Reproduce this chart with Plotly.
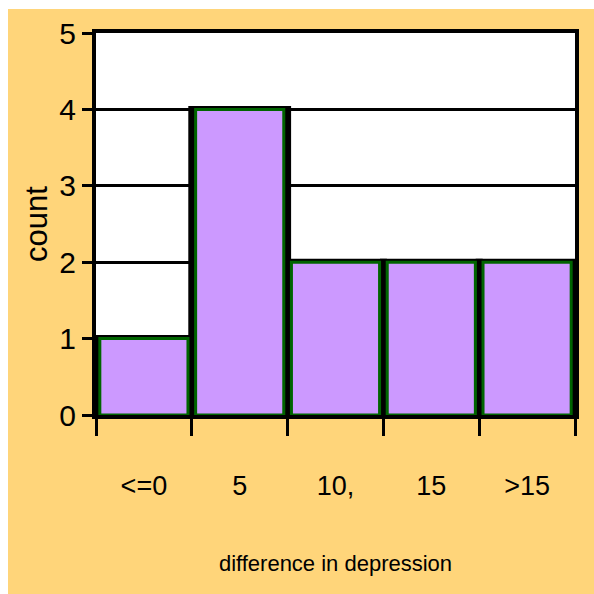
import plotly.graph_objects as go

# Histogram of change in depression score
bins = ["<=0", "5", "10,", "15", ">15"]
counts = [1, 4, 2, 2, 2]

y_ticks = [0, 1, 2, 3, 4, 5]

FONT = "Liberation Sans, Arial, sans-serif"
ORANGE = "#FFD57A"
PURPLE = "#CC99FF"
GREEN = "#006400"

fig = go.Figure()

# dark backing: gives the thin black rim between neighbouring bars
fig.add_trace(go.Bar(
    x=bins, y=counts, width=[1.0] * len(bins),
    marker=dict(color="black", line=dict(color="black", width=7)),
    hoverinfo="skip", showlegend=False,
))
# purple bars with green outline
fig.add_trace(go.Bar(
    x=bins, y=counts, width=[0.92] * len(bins),
    marker=dict(color=PURPLE, line=dict(color=GREEN, width=3)),
    showlegend=False,
))

W, H = 594, 594
L, R, T, B = 96, 19, 33, 179
pw, ph = W - L - R, H - T - B

fig.update_layout(
    width=W, height=H,
    margin=dict(l=L, r=R, t=T, b=B, pad=0),
    paper_bgcolor=ORANGE,
    plot_bgcolor="white",
    barmode="overlay",
    font=dict(family=FONT, color="black"),
    shapes=[
        # white strips along the left and top edges of the page
        dict(type="rect", xref="paper", yref="paper", layer="below",
             x0=-0.5, x1=(8 - L) / pw, y0=-1, y1=2,
             fillcolor="white", line=dict(width=0)),
        dict(type="rect", xref="paper", yref="paper", layer="below",
             x0=-0.5, x1=1.5, y0=(H - B - 9) / ph, y1=2,
             fillcolor="white", line=dict(width=0)),
    ],
)

fig.update_xaxes(
    type="category",
    tickson="boundaries",
    ticks="outside", ticklen=17, tickwidth=3, tickcolor="black",
    showline=True, linecolor="black", linewidth=4, mirror=True,
    showgrid=False,
    tickfont=dict(size=27, family=FONT),
    ticklabelstandoff=44,
    title=dict(text="difference in depression", font=dict(size=22, family=FONT), standoff=56),
)

fig.update_yaxes(
    range=[0, 5],
    tickvals=y_ticks,
    ticks="outside", ticklen=10, tickwidth=3, tickcolor="black",
    showline=True, linecolor="black", linewidth=4, mirror=True,
    showgrid=True, gridcolor="black", gridwidth=2.5,
    zeroline=False,
    tickfont=dict(size=30, family=FONT),
    title=dict(text="count", font=dict(size=31, family=FONT), standoff=3),
)

fig.write_html("out.html")
